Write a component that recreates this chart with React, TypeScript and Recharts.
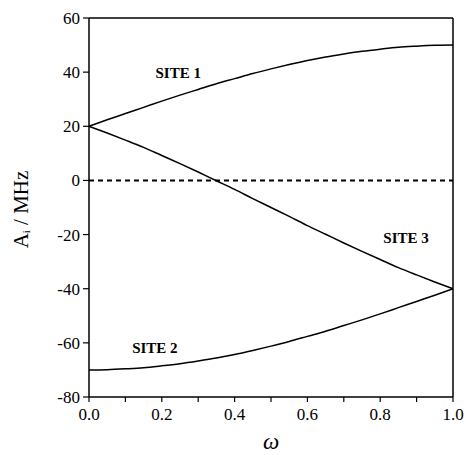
import { LineChart, Line, XAxis, YAxis, ReferenceLine, ReferenceDot } from 'recharts'

const omega = [0, 0.05, 0.1, 0.15, 0.2, 0.25, 0.3, 0.35, 0.4, 0.45, 0.5, 0.55, 0.6, 0.65, 0.7, 0.75, 0.8, 0.85, 0.9, 0.95, 1]
const site1 = [20, 22.4, 24.7, 27.0, 29.3, 31.5, 33.6, 35.7, 37.6, 39.5, 41.2, 42.8, 44.3, 45.6, 46.7, 47.7, 48.5, 49.2, 49.6, 49.9, 50]
const site2 = [-70, -69.9, -69.6, -69.2, -68.5, -67.7, -66.7, -65.6, -64.3, -62.8, -61.2, -59.5, -57.6, -55.7, -53.6, -51.5, -49.3, -47.0, -44.7, -42.4, -40]
const site3 = [20, 17.5, 14.9, 12.2, 9.2, 6.2, 3.1, -0.1, -3.3, -6.7, -10.0, -13.3, -16.7, -19.9, -23.1, -26.2, -29.2, -32.2, -34.9, -37.5, -40]

const xTicks = [0, 0.1, 0.2, 0.3, 0.4, 0.5, 0.6, 0.7, 0.8, 0.9, 1]
const yTicks = [-80, -60, -40, -20, 0, 20, 40, 60]

const data = omega.map((w, i) => ({ w, s1: site1[i], s2: site2[i], s3: site3[i] }))

const font = '"Liberation Serif", "Times New Roman", serif'

function siteLabel(text: string) {
  return ({ viewBox }: any) => (
    <text
      x={viewBox.x + viewBox.width / 2}
      y={viewBox.y + viewBox.height / 2}
      textAnchor="middle"
      dominantBaseline="central"
      style={{ fontFamily: font, fontWeight: 'bold', fontSize: 15 }}
      fill="#000"
    >
      {text}
    </text>
  )
}

const XTick = ({ x, y, payload }: any) => {
  const v = payload.value as number
  if (Math.round(v * 10) % 2 !== 0) return <g />
  return (
    <text x={x} y={y + 18} textAnchor="middle" style={{ fontFamily: font, fontSize: 17 }} fill="#000">
      {v.toFixed(1)}
    </text>
  )
}

const YTick = ({ x, y, payload }: any) => (
  <text x={x} y={y} dy={6} textAnchor="end" style={{ fontFamily: font, fontSize: 17 }} fill="#000">
    {payload.value}
  </text>
)

export default function App() {
  return (
    <div style={{ position: 'absolute', left: 0, top: 0, background: '#fff', fontFamily: font }}>
      <LineChart
        width={466}
        height={455}
        data={data}
        margin={{ top: 18, right: 13, bottom: 0, left: 0 }}
      >
        <XAxis
          dataKey="w"
          type="number"
          domain={[0, 1]}
          ticks={xTicks}
          interval={0}
          height={58}
          tickSize={5}
          tickMargin={0}
          axisLine={{ stroke: '#000', strokeWidth: 1.5 }}
          tickLine={{ stroke: '#000', strokeWidth: 1.2 }}
          tick={XTick}
          label={({ viewBox }: any) => (
            <text
              x={viewBox.x + viewBox.width / 2}
              y={441}
              textAnchor="middle"
              dominantBaseline="central"
              style={{ fontFamily: font, fontStyle: 'italic', fontSize: 23 }}
              fill="#000"
            >
              ω
            </text>
          )}
        />
        <YAxis
          type="number"
          domain={[-80, 60]}
          ticks={yTicks}
          interval={0}
          width={89}
          tickSize={6}
          tickMargin={3}
          axisLine={{ stroke: '#000', strokeWidth: 1.5 }}
          tickLine={{ stroke: '#000', strokeWidth: 1.2 }}
          tick={YTick}
          label={({ viewBox }: any) => {
            const cx = 21
            const cy = viewBox.y + viewBox.height / 2 + 2
            return (
              <text
                x={cx}
                y={cy}
                transform={`rotate(-90 ${cx} ${cy})`}
                textAnchor="middle"
                dominantBaseline="central"
                style={{ fontFamily: font, fontSize: 21 }}
                fill="#000"
              >
                A<tspan fontSize={11} dy={5}>i</tspan>
                <tspan dy={-5}> / MHz</tspan>
              </text>
            )
          }}
        />
        <ReferenceLine y={60} stroke="#000" strokeWidth={1.5} />
        <ReferenceLine x={1} stroke="#000" strokeWidth={1.5} />
        <ReferenceLine y={0} stroke="#000" strokeWidth={2} strokeDasharray="5 4" />
        <Line dataKey="s1" type="monotone" stroke="#000" strokeWidth={1.5} dot={false} isAnimationActive={false} />
        <Line dataKey="s2" type="monotone" stroke="#000" strokeWidth={1.5} dot={false} isAnimationActive={false} />
        <Line dataKey="s3" type="monotone" stroke="#000" strokeWidth={1.5} dot={false} isAnimationActive={false} />
        <ReferenceDot x={0.245} y={39.7} r={0} fill="none" stroke="none" label={siteLabel('SITE 1')} />
        <ReferenceDot x={0.181} y={-61.9} r={0} fill="none" stroke="none" label={siteLabel('SITE 2')} />
        <ReferenceDot x={0.871} y={-21.3} r={0} fill="none" stroke="none" label={siteLabel('SITE 3')} />
      </LineChart>
    </div>
  )
}
